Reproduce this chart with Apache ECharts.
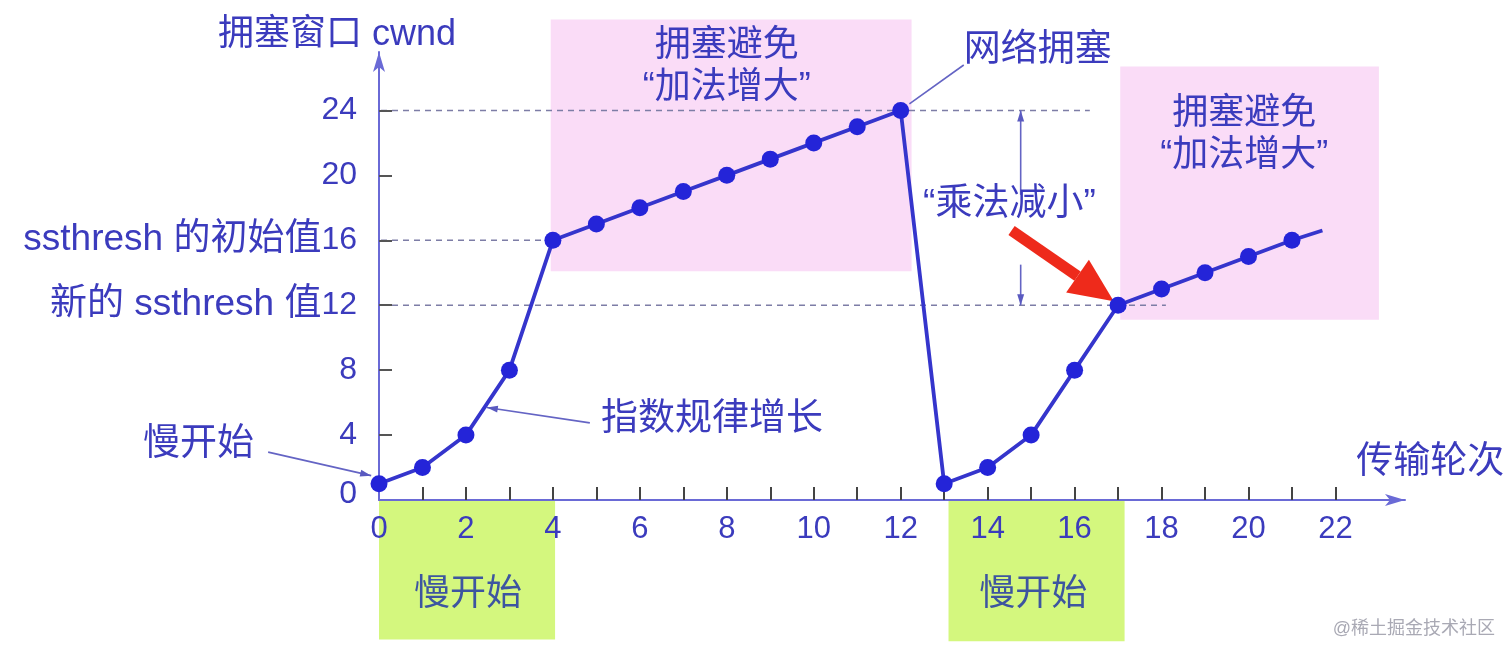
<!DOCTYPE html>
<html><head><meta charset="utf-8">
<script src="https://cdn.jsdelivr.net/npm/echarts@6/dist/echarts.min.js"></script>
<style>html,body{margin:0;padding:0;background:#fff}#c{width:1512px;height:656px}</style>
</head><body><div id="c"></div>
<script>
// ---- data ----
const rounds = [0,1,2,3,4,5,6,7,8,9,10,11,12,13,14,15,16,17,18,19,20,21];
const cwnd   = [1,2,4,8,16,17,18,19,20,21,22,23,24,1,2,4,8,12,13,14,15,16];
const tailRounds = [21, 21.7];
const tailCwnd   = [16, 16.6];
const xTickValues  = [1,2,3,4,5,6,7,8,9,10,11,12,13,14,15,16,17,18,19,20,21,22];
const xLabelValues = [0,2,4,6,8,10,12,14,16,18,20,22];
const yTickValues  = [4,8,12,16,20,24];
const yLabelValues = [0,4,8,12,16,20,24];
const ssthreshInit = 16;
const ssthreshNew  = 12;
const peakCwnd     = 24;

// ---- styles / layout ----
const FONT = '"Liberation Sans", "Noto Sans CJK SC", sans-serif';
const BLUE = '#3b3bbd';
const PINK = '#fadcf7';
const GREEN = '#d4f77e';

// phase regions in axis units: [x0, x1, y0, y1]
const regions = [
  {b:[3.95, 12.25, 14.1, 29.6], fill:PINK, text:'拥塞避免\n“加法增大”', tx:8.0, ty:26.7, color:BLUE},
  {b:[17.05, 23.0, 11.1, 26.7], fill:PINK, text:'拥塞避免\n“加法增大”', tx:19.9, ty:22.5, color:BLUE},
  {b:[0, 4.05, -8.6, 0], fill:GREEN, text:'慢开始', tx:2.05, ty:-5.85, color:'#3d55a0'},
  {b:[13.1, 17.15, -8.7, 0], fill:GREEN, text:'慢开始', tx:15.05, ty:-5.85, color:'#3d55a0'}
];
// free texts in axis units
const texts = [
  {t:'网络拥塞', x:15.15, y:27.65},
  {t:'“乘法减小”', x:14.5, y:18.2},
  {t:'指数规律增长', x:7.66, y:4.95},
  {t:'慢开始', x:-4.15, y:3.4},
  {t:'传输轮次', x:24.18, y:2.3}
];
// thin pointer lines [from, to], arrowhead at "to"
const pointers = [
  {a:[13.45, 26.8], b:[12.2, 24.4], head:false},
  {a:[4.85, 4.75], b:[2.48, 5.7], head:true},
  {a:[-2.55, 2.95], b:[-0.18, 1.5], head:true},
  {a:[14.76, 18.8], b:[14.76, peakCwnd], head:true},
  {a:[14.76, 14.5], b:[14.76, ssthreshNew], head:true}
];
const redArrow = {a:[14.55, 16.6], b:[16.9, 12.25]};
const dashed = [
  {y:peakCwnd, x1:16.35},
  {y:ssthreshInit, x1:4},
  {y:ssthreshNew, x1:18.1}
];

function arrowHead(p, q, len, wid){
  const dx = q[0]-p[0], dy = q[1]-p[1];
  const L = Math.sqrt(dx*dx+dy*dy); const ux = dx/L, uy = dy/L;
  const bx = q[0]-ux*len, by = q[1]-uy*len;
  return [[q[0],q[1]],[bx - uy*wid/2, by + ux*wid/2],[bx + uy*wid/2, by - ux*wid/2]];
}

const chart = echarts.init(document.getElementById('c'));
chart.setOption({
  animation:false,
  grid:{left:379, right:107, top:52, bottom:156, containLabel:false},
  xAxis:{
    type:'value', min:0, max:23.6, z:4,
    axisLine:{show:true, symbol:['none','arrow'], symbolSize:[9,20], lineStyle:{color:'#6a6ad6', width:2}},
    axisTick:{show:true, inside:true, length:13, customValues:xTickValues, lineStyle:{color:'#444', width:2}},
    axisLabel:{customValues:xLabelValues, margin:14, color:BLUE, fontSize:31, fontFamily:FONT},
    splitLine:{show:false}
  },
  yAxis:{
    type:'value', min:0, max:27.6, z:4,
    name:'拥塞窗口 cwnd', nameLocation:'end', nameGap:-1,
    nameTextStyle:{color:BLUE, fontSize:36, fontFamily:FONT, align:'center', padding:[0,84,0,0]},
    axisLine:{show:true, symbol:['none','arrow'], symbolSize:[9,20], lineStyle:{color:'#6a6ad6', width:2}},
    axisTick:{show:true, inside:true, length:13, customValues:yTickValues, lineStyle:{color:'#555', width:2}},
    axisLabel:{customValues:yLabelValues, margin:22, color:BLUE, fontSize:32, fontFamily:FONT,
      formatter:function(v){
        if(v===ssthreshInit) return '{n|ssthresh 的初始值}{d|'+v+'}';
        if(v===ssthreshNew) return '{n|新的 ssthresh 值}{d|'+v+'}';
        if(v===0) return '{z|0}';
        return String(v);
      },
      rich:{
        n:{color:BLUE, fontSize:37, fontFamily:FONT},
        d:{color:BLUE, fontSize:32, fontFamily:FONT},
        z:{color:BLUE, fontSize:32, fontFamily:FONT, padding:[0,0,12,0]}
      }
    },
    splitLine:{show:false}
  },
  graphic:[{type:'text', right:17, bottom:18, style:{text:'@稀土掘金技术社区', fill:'#a9a9b4', fontSize:18, fontFamily:FONT}}],
  series:[
    {
      type:'custom', z:1, silent:true, clip:false,
      data:regions.map((r,i)=>[i]),
      renderItem:function(params, api){
        const r = regions[params.dataIndex];
        const p0 = api.coord([r.b[0], r.b[3]]);
        const p1 = api.coord([r.b[1], r.b[2]]);
        const tc = api.coord([r.tx, r.ty]);
        return {type:'group', children:[
          {type:'rect', shape:{x:p0[0], y:p0[1], width:p1[0]-p0[0], height:p1[1]-p0[1]}, style:{fill:r.fill}},
          {type:'text', x:tc[0], y:tc[1], style:{text:r.text, fill:r.color, font:'36px '+FONT, align:'center', verticalAlign:'middle', lineHeight:42}}
        ]};
      }
    },
    {
      type:'custom', z:2, silent:true, clip:false,
      data:[[0]],
      renderItem:function(params, api){
        const ch = [];
        dashed.forEach(d=>{
          const a = api.coord([0, d.y]), b = api.coord([d.x1, d.y]);
          ch.push({type:'line', shape:{x1:a[0]+2, y1:a[1], x2:b[0], y2:b[1]}, style:{stroke:'#7d7da6', lineWidth:1.5, lineDash:[6,5]}});
        });
        pointers.forEach(p=>{
          const a = api.coord(p.a), b = api.coord(p.b);
          ch.push({type:'line', shape:{x1:a[0], y1:a[1], x2:b[0], y2:b[1]}, style:{stroke:'#6464c4', lineWidth:1.6}});
          if(p.head) ch.push({type:'polygon', shape:{points:arrowHead(a,b,11,7)}, style:{fill:'#5a5ac0'}});
        });
        const ra = api.coord(redArrow.a), rb = api.coord(redArrow.b);
        const hd = arrowHead(ra, rb, 44, 40);
        const bm = [(hd[1][0]+hd[2][0])/2, (hd[1][1]+hd[2][1])/2];
        ch.push({type:'line', shape:{x1:ra[0], y1:ra[1], x2:bm[0], y2:bm[1]}, style:{stroke:'#ee2a1b', lineWidth:11}});
        ch.push({type:'polygon', shape:{points:hd}, style:{fill:'#ee2a1b'}});
        texts.forEach(t=>{
          const c = api.coord([t.x, t.y]);
          ch.push({type:'text', x:c[0], y:c[1], style:{text:t.t, fill:BLUE, font:'37px '+FONT, align:'center', verticalAlign:'middle'}});
        });
        return {type:'group', children:ch};
      }
    },
    {
      type:'line', z:5, data:tailRounds.map((r,i)=>[r, tailCwnd[i]]), symbol:'none',
      lineStyle:{color:'#3535cc', width:3.8}, silent:true
    },
    {
      type:'line', z:6, data:rounds.map((r,i)=>[r, cwnd[i]]),
      symbol:'circle', symbolSize:17,
      itemStyle:{color:'#2424d8'},
      lineStyle:{color:'#3535cc', width:3.8}, silent:true
    }
  ]
});
</script></body></html>
